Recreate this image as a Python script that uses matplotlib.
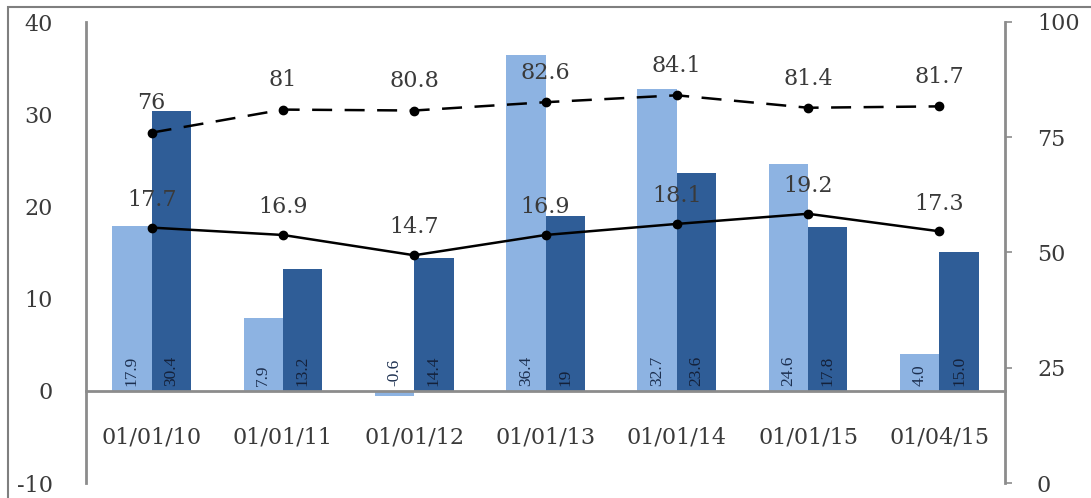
import matplotlib
matplotlib.use("Agg")
import matplotlib.pyplot as plt
from matplotlib.patches import Rectangle

plt.rcParams["axes.unicode_minus"] = False

# data
dates = ["01/01/10", "01/01/11", "01/01/12", "01/01/13", "01/01/14", "01/01/15", "01/04/15"]
bars_light = [17.9, 7.9, -0.6, 36.4, 32.7, 24.6, 4.0]
bars_dark = [30.4, 13.2, 14.4, 19, 23.6, 17.8, 15.0]
bars_light_txt = ["17.9", "7.9", "-0.6", "36.4", "32.7", "24.6", "4.0"]
bars_dark_txt = ["30.4", "13.2", "14.4", "19", "23.6", "17.8", "15.0"]
line_solid = [17.7, 16.9, 14.7, 16.9, 18.1, 19.2, 17.3]   # left axis
line_dashed = [76, 81, 80.8, 82.6, 84.1, 81.4, 81.7]     # right axis
solid_txt = ["17.7", "16.9", "14.7", "16.9", "18.1", "19.2", "17.3"]
dashed_txt = ["76", "81", "80.8", "82.6", "84.1", "81.4", "81.7"]

light = "#8db3e2"
dark = "#2f5d97"
grey = "#8c8c8c"
txt = "#3a3a3a"
serif = "DejaVu Serif"

fig = plt.figure(figsize=(10.91, 4.98), dpi=100)
fig.patches.append(Rectangle((8 / 1091, -0.05), 1.1, 0.05 + (498 - 7) / 498,
                             transform=fig.transFigure, fill=False,
                             edgecolor="#7f7f7f", lw=1.5))

ax = fig.add_axes([86 / 1091, 15 / 498, 919 / 1091, 461 / 498])
ax2 = ax.twinx()
ax.set_zorder(ax2.get_zorder() - 1)
ax.patch.set_visible(True)
ax2.patch.set_visible(False)

x = list(range(len(dates)))
w = 0.3
ax.bar([i - w / 2 for i in x], bars_light, width=w, color=light, zorder=2)
ax.bar([i + w / 2 for i in x], bars_dark, width=w, color=dark, zorder=2)

for i in x:
    ax.text(i - w / 2, 0.5, bars_light_txt[i], rotation=90, ha="center", va="bottom",
            fontsize=12.5, family="Liberation Serif", color="#1c2f4f", zorder=3)
    ax.text(i + w / 2, 0.5, bars_dark_txt[i], rotation=90, ha="center", va="bottom",
            fontsize=12.5, family="Liberation Serif", color="#14213a", zorder=3)

ax.plot(x, line_solid, color="black", lw=1.8, marker="o", ms=6, zorder=4)
for i in x:
    ax.annotate(solid_txt[i], (i, line_solid[i]), xytext=(0, 20), textcoords="offset points",
                ha="center", va="center", fontsize=16, family=serif, color=txt, zorder=5)

ax2.plot(x, line_dashed, color="black", lw=1.8, ls=(0, (8, 5)), marker="o", ms=6)
for i in x:
    ax2.annotate(dashed_txt[i], (i, line_dashed[i]), xytext=(0, 21), textcoords="offset points",
                 ha="center", va="center", fontsize=16, family=serif, color=txt)

ax.set_xlim(-0.5, len(dates) - 0.5)
ax.set_ylim(-10, 40)
ax.set_yticks([-10, 0, 10, 20, 30, 40])
ax2.set_ylim(0, 100)
ax2.set_yticks([0, 25, 50, 75, 100])

for a in (ax, ax2):
    a.spines["top"].set_visible(False)
ax2.spines["bottom"].set_visible(False)
ax2.spines["left"].set_visible(False)
ax.spines["right"].set_visible(False)
ax.spines["left"].set_color(grey)
ax.spines["left"].set_linewidth(2)
ax2.spines["right"].set_color(grey)
ax2.spines["right"].set_linewidth(2)
ax.spines["bottom"].set_position(("data", 0))
ax.spines["bottom"].set_color(grey)
ax.spines["bottom"].set_linewidth(2)

ax.set_xticks(x)
ax.set_xticklabels(dates)
ax.tick_params(axis="x", length=0, pad=26, labelsize=16, labelcolor=txt)
ax.tick_params(axis="y", length=0, pad=24, labelsize=16, labelcolor=txt)
ax2.yaxis.set_tick_params(which="major", length=5, width=1.2, color=grey,
                          pad=18, labelsize=16, labelcolor=txt)
for lab in ax.get_xticklabels() + ax.get_yticklabels() + ax2.get_yticklabels():
    lab.set_family(serif)

fig.savefig("out.png", dpi=100)
